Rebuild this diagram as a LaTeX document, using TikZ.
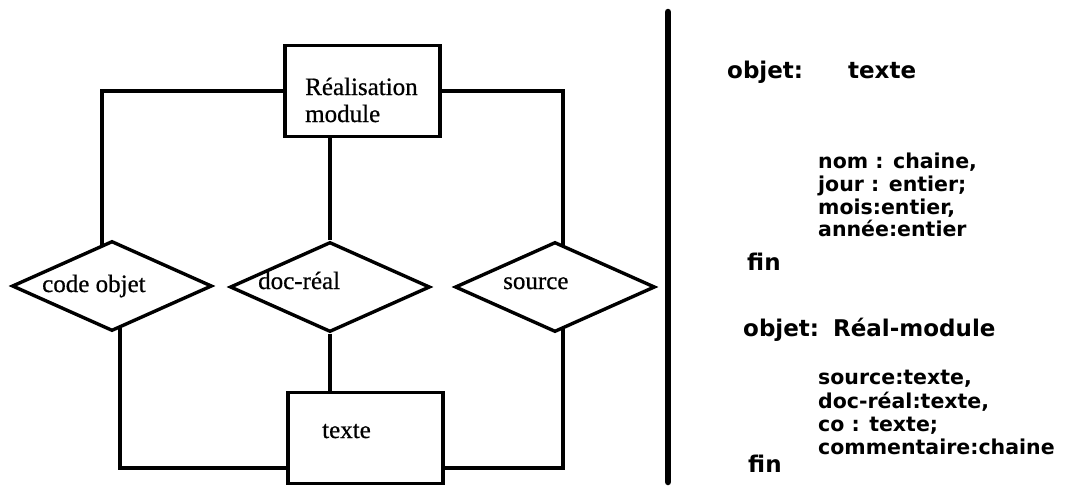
\documentclass[tikz,border=0pt]{standalone}
\usepackage{fontspec}
\setmainfont{Liberation Serif}
\newfontfamily\labfont{Liberation Serif}[FakeBold=0.6]
\newfontfamily\codefont{DejaVu Sans}
\usetikzlibrary{shapes.geometric,calc}
\begin{document}
\begin{tikzpicture}[x=1pt,y=-1pt,
  ln/.style={line width=3.4pt},
  boxn/.style={draw,line width=3.4pt,rectangle,minimum width=155pt,minimum height=91pt,inner sep=0pt},
  rel/.style={draw,line width=3.4pt,diamond,minimum width=200pt,minimum height=90pt,inner sep=0pt,aspect=2.22},
  lab/.style={anchor=base west,inner sep=0pt,font=\labfont\fontsize{25}{27}\selectfont},
  code/.style={anchor=base west,inner sep=0pt,font=\codefont\bfseries\fontsize{20.5}{23}\selectfont},
  titl/.style={anchor=base west,inner sep=0pt,font=\codefont\bfseries\fontsize{23}{26}\selectfont},
  sepl/.style={line width=6.5pt,line cap=round}]
\useasboundingbox (0,0) rectangle (1073,485);
% entities and relations
\node[boxn] (rm) at (362.5,91) {};
\node[lab] (rmt1) at (305,95) {Réalisation};
\node[lab] (rmt2) at (305,122) {module};
\node[rel] (co) at (112,286) {};
\node[lab] (cot) at (42,292) {code objet};
\node[rel] (dr) at (330,287) {};
\node[lab] (drt) at (258,289) {doc-réal};
\node[rel] (so) at (555,287) {};
\node[lab] (sot) at (503,289) {source};
\node[boxn] (tx) at (365.5,438) {};
\node[lab] (txt) at (322,438) {texte};
% connectors
\draw[ln] (rm.west) -| ($(co.center)+(-10,-40.5)$);
\draw[ln] (rm.east) -| ($(so.center)+(8,-41.4)$);
\draw[ln] (dr.north |- rm.south) -- (dr.north);
\draw[ln] (dr.south) -- (dr.south |- tx.north);
\draw[ln] ($(co.center)+(8,41.4)$) |- ([yshift=-30pt]tx.west);
\draw[ln] ($(so.center)+(8,41.4)$) |- ([yshift=-30pt]tx.east);
% separator
\coordinate (s1) at (668,12);
\coordinate (s2) at (668,482);
\draw[sepl] (s1) -- (s2);
% right text
\node[titl] (t1) at (727,78) {objet:\hspace{45pt}texte};
\node[code] (e1) at (818,168) {nom : chaine,};
\node[code] (e2) at (818,191) {jour : entier;};
\node[code] (e3) at (818,214) {mois:entier,};
\node[code] (e4) at (818,236) {année:entier};
\node[titl] (f1) at (747,270) {fin};
\node[titl] (t2) at (743,336) {objet:\hspace{14pt}Réal-module};
\node[code] (g1) at (818,384) {source:texte,};
\node[code] (g2) at (818,408) {doc-réal:texte,};
\node[code] (g3) at (818,431) {co : texte;};
\node[code] (g4) at (818,454) {commentaire:chaine};
\node[titl] (f2) at (748,472) {fin};
\end{tikzpicture}
\end{document}
